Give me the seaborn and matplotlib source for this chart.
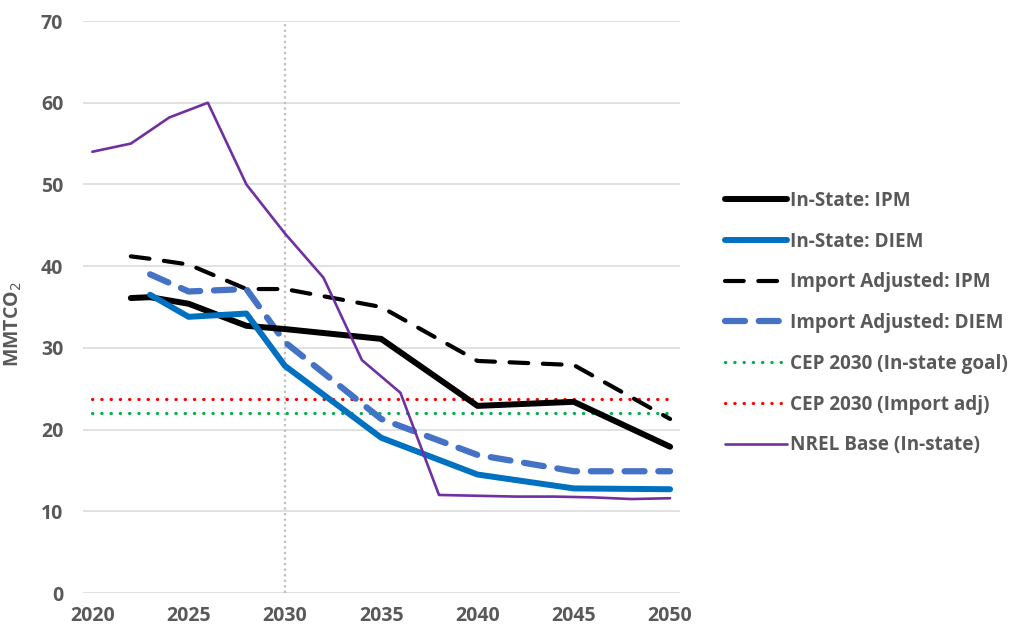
import matplotlib
matplotlib.use("Agg")
import matplotlib.pyplot as plt
import seaborn as sns
import pandas as pd

# In-state emissions, IPM model
ipm_years = [2022, 2023, 2025, 2028, 2030, 2035, 2040, 2045, 2050]
ipm_instate = [36.1, 36.2, 35.4, 32.7, 32.3, 31.1, 22.9, 23.4, 17.9]
ipm_import = [41.2, 40.9, 40.2, 37.2, 37.2, 35.0, 28.4, 27.9, 21.3]

# DIEM model
diem_years = [2023, 2025, 2028, 2030, 2035, 2040, 2045, 2050]
diem_instate = [36.5, 33.8, 34.2, 27.8, 19.0, 14.5, 12.8, 12.7]
diem_import = [39.0, 36.9, 37.2, 30.7, 21.3, 16.9, 14.9, 14.9]

# CEP 2030 targets (flat lines)
cep_years = [2020, 2050]
cep_instate = [22.0, 22.0]
cep_import = [23.8, 23.8]

# NREL base case
nrel_years = [2020, 2022, 2024, 2026, 2028, 2030, 2032, 2034, 2036, 2038,
              2040, 2042, 2044, 2046, 2048, 2050]
nrel_base = [54.0, 55.0, 58.2, 60.0, 50.0, 44.0, 38.6, 28.5, 24.5, 12.0,
             11.9, 11.8, 11.8, 11.7, 11.5, 11.6]

sns.set_style("white")
plt.rcParams['font.family'] = ['Open Sans', 'DejaVu Sans']
grey_txt = "#595959"

fig = plt.figure(figsize=(10.16, 6.31), dpi=100)
ax = fig.add_axes([0.0814, 0.0602, 0.5876, 0.9065])

# 2030 marker line
ax.axvline(2030, color="#BFBFBF", lw=1.6, ls=(0, (1, 1.5)), zorder=1)

sns.lineplot(x=ipm_years, y=ipm_instate, ax=ax, color="black", lw=4.3,
             label="In-State: IPM", zorder=5)
sns.lineplot(x=diem_years, y=diem_instate, ax=ax, color="#0070C0", lw=4.3,
             label="In-State: DIEM", zorder=5)
l3 = sns.lineplot(x=ipm_years, y=ipm_import, ax=ax, color="black", lw=3.0,
                  label="Import Adjusted: IPM", zorder=4).lines[-1]
l3.set_dashes((4.5, 3.5))
l3.set_dash_capstyle("round")
l4 = sns.lineplot(x=diem_years, y=diem_import, ax=ax, color="#4472C4", lw=4.5,
                  label="Import Adjusted: DIEM", zorder=4).lines[-1]
l4.set_dashes((3.2, 2.2))
l4.set_dash_capstyle("round")
l5 = sns.lineplot(x=cep_years, y=cep_instate, ax=ax, color="#00B050", lw=2.3,
                  label="CEP 2030 (In-state goal)", zorder=3).lines[-1]
l5.set_dashes((0.1, 2.8))
l5.set_dash_capstyle("round")
l6 = sns.lineplot(x=cep_years, y=cep_import, ax=ax, color="#FF0000", lw=2.3,
                  label="CEP 2030 (Import adj)", zorder=3).lines[-1]
l6.set_dashes((0.1, 2.8))
l6.set_dash_capstyle("round")
sns.lineplot(x=nrel_years, y=nrel_base, ax=ax, color="#7030A0", lw=1.9,
             label="NREL Base (In-state)", zorder=6)

ax.set_xlim(2019.5, 2050.5)
ax.set_ylim(0, 70)
ax.set_xticks(range(2020, 2051, 5))
ax.set_yticks(range(0, 71, 10))
ax.grid(axis="y", color="#D9D9D9", lw=1.1)
ax.grid(axis="x", visible=False)
for s in ax.spines.values():
    s.set_visible(False)
ax.tick_params(axis="both", length=0, labelsize=14, labelcolor=grey_txt)
ax.tick_params(axis="y", pad=14)
ax.tick_params(axis="x", pad=9)
for t in ax.get_xticklabels() + ax.get_yticklabels():
    t.set_fontweight("bold")
ax.set_ylabel("MMTCO$_2$", fontsize=14, color=grey_txt, fontweight="bold")
ax.yaxis.set_label_coords(-0.098, 0.47)
ax.set_xlabel("")

handles, labels = ax.get_legend_handles_labels()
ax.get_legend().remove()
leg = fig.legend(handles, labels, loc="center left", bbox_to_anchor=(0.714, 0.488),
                 frameon=False, fontsize=13.6, handlelength=3.25, handletextpad=0.15,
                 labelspacing=1.1, borderpad=0, borderaxespad=0)
for t in leg.get_texts():
    t.set_color(grey_txt)
    t.set_fontweight("bold")

fig.savefig("out.png", dpi=100)
